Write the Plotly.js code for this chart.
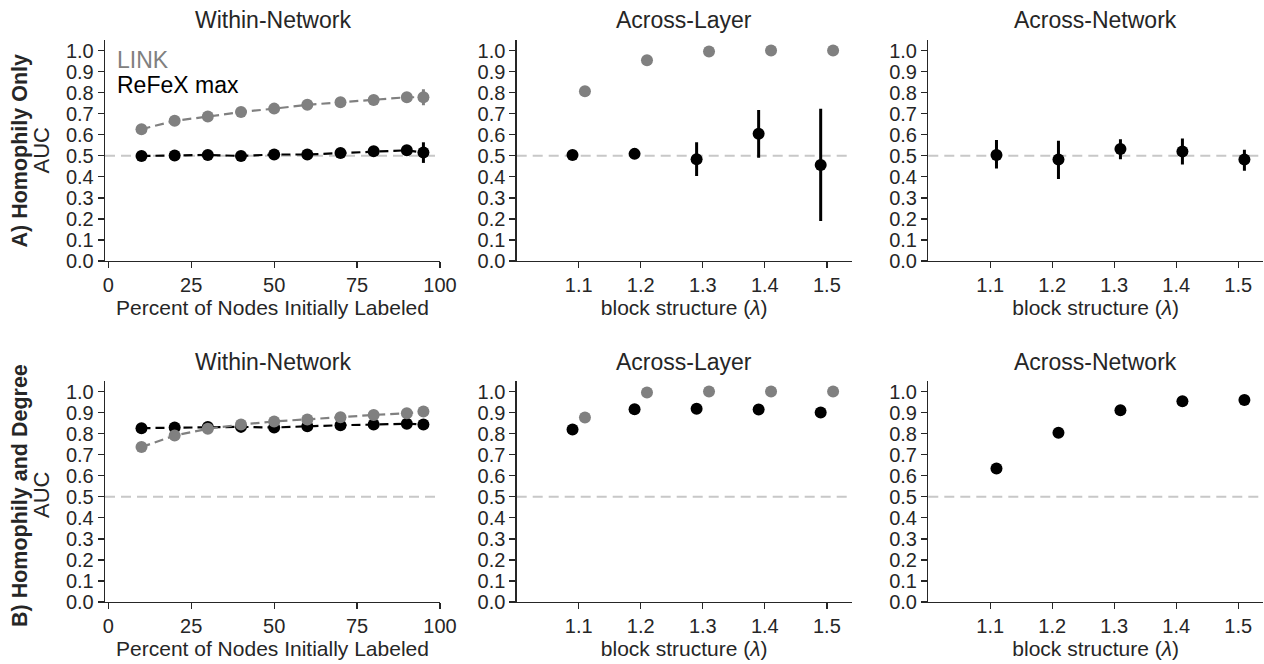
<!DOCTYPE html>
<html>
<head>
<meta charset="utf-8">
<script src="https://cdn.plot.ly/plotly-3.0.1.min.js"></script>
<style>html,body{margin:0;padding:0;background:#fff;}#chart{width:1264px;height:664px;}</style>
</head>
<body>
<div id="chart"></div>
<script>
// ---------- data ----------
const pctLabeled = [10, 20, 30, 40, 50, 60, 70, 80, 90, 95];
const lambdaVals = [1.1, 1.2, 1.3, 1.4, 1.5];
const pctTicks = [0, 25, 50, 75, 100];
const aucTicks = [0, 0.1, 0.2, 0.3, 0.4, 0.5, 0.6, 0.7, 0.8, 0.9, 1.0];
const lambdaTicks = [1.1, 1.2, 1.3, 1.4, 1.5];
const chanceLevel = 0.5;

// A) Homophily only
const A_within_link   = [0.626, 0.666, 0.686, 0.708, 0.724, 0.742, 0.754, 0.765, 0.778, 0.778];
const A_within_link_err = [0.006, 0.006, 0.006, 0.006, 0.006, 0.006, 0.006, 0.006, 0.010, 0.038];
const A_within_refex  = [0.499, 0.501, 0.504, 0.499, 0.506, 0.506, 0.513, 0.521, 0.526, 0.515];
const A_within_refex_err = [0.006, 0.006, 0.006, 0.006, 0.006, 0.006, 0.008, 0.008, 0.012, 0.049];

const A_layer_link  = [0.807, 0.954, 0.995, 1.000, 1.000];
const A_layer_refex = [0.504, 0.509, 0.483, 0.605, 0.456];
const A_layer_refex_errPlus  = [0.010, 0.010, 0.081, 0.113, 0.267];
const A_layer_refex_errMinus = [0.010, 0.010, 0.079, 0.114, 0.266];

const A_net_refex = [0.504, 0.482, 0.532, 0.520, 0.482];
const A_net_refex_errPlus  = [0.071, 0.089, 0.046, 0.062, 0.046];
const A_net_refex_errMinus = [0.065, 0.092, 0.049, 0.062, 0.053];

// B) Homophily and degree
const B_within_link  = [0.736, 0.791, 0.823, 0.843, 0.858, 0.867, 0.878, 0.889, 0.897, 0.905];
const B_within_link_err = [0.006, 0.006, 0.006, 0.006, 0.006, 0.006, 0.006, 0.006, 0.006, 0.012];
const B_within_refex = [0.826, 0.829, 0.831, 0.832, 0.829, 0.835, 0.840, 0.843, 0.847, 0.843];
const B_within_refex_err = [0.006, 0.006, 0.006, 0.006, 0.006, 0.006, 0.006, 0.006, 0.008, 0.020];

const B_layer_link  = [0.877, 0.995, 1.000, 1.000, 1.000];
const B_layer_refex = [0.820, 0.916, 0.918, 0.915, 0.900];

const B_net_refex = [0.634, 0.804, 0.911, 0.954, 0.960];

// ---------- styling ----------
const GRAY = '#808080', BLACK = '#000000', INK = '#262626';
const FONT = 'Liberation Sans, Arial, Helvetica, sans-serif';
const DODGE = 0.01;
const shift = (arr, d) => arr.map(v => +(v + d).toFixed(3));

function pts(x, y, color, axis, opts) {
  opts = opts || {};
  const t = {
    type: 'scatter', x: x, y: y, xaxis: 'x' + axis, yaxis: 'y' + axis,
    mode: opts.line ? 'lines+markers' : 'markers',
    marker: {color: color, size: 12},
    showlegend: false, hoverinfo: 'x+y'
  };
  if (opts.line) t.line = {color: color, width: 2.2, dash: '9px,5px'};
  if (opts.errPlus) {
    t.error_y = {type: 'data', symmetric: false, array: opts.errPlus,
                 arrayminus: opts.errMinus || opts.errPlus,
                 color: color, thickness: 3, width: 0};
  }
  return t;
}

const data = [
  // A within
  pts(pctLabeled, A_within_refex, BLACK, '', {line: true, errPlus: A_within_refex_err}),
  pts(pctLabeled, A_within_link, GRAY, '', {line: true, errPlus: A_within_link_err}),
  // A across layer
  pts(shift(lambdaVals, -DODGE), A_layer_refex, BLACK, '2', {errPlus: A_layer_refex_errPlus, errMinus: A_layer_refex_errMinus}),
  pts(shift(lambdaVals, DODGE), A_layer_link, GRAY, '2'),
  // A across network
  pts(shift(lambdaVals, DODGE), A_net_refex, BLACK, '3', {errPlus: A_net_refex_errPlus, errMinus: A_net_refex_errMinus}),
  // B within
  pts(pctLabeled, B_within_refex, BLACK, '4', {line: true, errPlus: B_within_refex_err}),
  pts(pctLabeled, B_within_link, GRAY, '4', {line: true, errPlus: B_within_link_err}),
  // B across layer
  pts(shift(lambdaVals, -DODGE), B_layer_refex, BLACK, '5'),
  pts(shift(lambdaVals, DODGE), B_layer_link, GRAY, '5'),
  // B across network
  pts(shift(lambdaVals, DODGE), B_net_refex, BLACK, '6')
];

// plot area: x 105..1263, y 40..602 (pixels)
const L = 105, R = 1263, T = 40, B = 602;
const W = R - L, H = B - T;
const px = v => (v - L) / W;
const py = v => (B - v) / H;

const colDom = [[0, px(440)], [px(516.7), px(851.7)], [px(928.3), 1]];
const rowDom = [[py(261), 1], [0, py(381)]];

const XTICK_SIZE = 20, YTICK_SIZE = 20, AXTITLE_SIZE = 21, PANEL_TITLE_SIZE = 23;

function xax(col, row) {
  const isPct = col === 0;
  const idx = row * 3 + col + 1;
  return {
    domain: colDom[col], anchor: 'y' + (idx === 1 ? '' : idx),
    range: isPct ? [-1, 100] : [1.0, 1.54],
    tickmode: 'array', tickvals: isPct ? pctTicks : lambdaTicks,
    ticktext: isPct ? pctTicks.map(String) : lambdaTicks.map(v => v.toFixed(1)),
    showline: true, linecolor: INK, linewidth: 1.3,
    ticks: 'outside', ticklen: 6, tickwidth: 1.3, tickcolor: INK,
    showgrid: false, zeroline: false,
    tickfont: {family: FONT, size: XTICK_SIZE, color: INK},
    title: {text: isPct ? 'Percent of Nodes Initially Labeled' : 'block structure (<i>λ</i>)',
            font: {family: FONT, size: AXTITLE_SIZE, color: INK}, standoff: 4},
    automargin: false, fixedrange: true
  };
}
function yax(col, row) {
  const idx = row * 3 + col + 1;
  return {
    domain: rowDom[row], anchor: 'x' + (idx === 1 ? '' : idx),
    range: [0, 1.05],
    tickmode: 'array', tickvals: aucTicks, ticktext: aucTicks.map(v => v.toFixed(1)),
    showline: true, linecolor: INK, linewidth: 1.3,
    ticks: 'outside', ticklen: 6, tickwidth: 1.3, tickcolor: INK,
    showgrid: false, zeroline: false,
    tickfont: {family: FONT, size: YTICK_SIZE, color: INK},
    automargin: false, fixedrange: true
  };
}

const layout = {
  width: 1264, height: 664,
  margin: {l: L, r: 1264 - R, t: T, b: 664 - B, pad: 0},
  paper_bgcolor: '#ffffff', plot_bgcolor: '#ffffff',
  font: {family: FONT, color: INK},
  showlegend: false,
  shapes: [], annotations: []
};
for (let row = 0; row < 2; row++) {
  for (let col = 0; col < 3; col++) {
    const idx = row * 3 + col + 1;
    const s = idx === 1 ? '' : String(idx);
    layout['xaxis' + s] = xax(col, row);
    layout['yaxis' + s] = yax(col, row);
    layout.shapes.push({type: 'line', xref: 'x' + s + ' domain', yref: 'y' + s,
      x0: 0, x1: 1, y0: chanceLevel, y1: chanceLevel, layer: 'below',
      line: {color: '#c8c8c8', width: 2.2, dash: '10px,6px'}});
  }
}

const colTitles = ['Within-Network', 'Across-Layer', 'Across-Network'];
const rowTitleY = [py(20), py(362)];
for (let row = 0; row < 2; row++) {
  for (let col = 0; col < 3; col++) {
    layout.annotations.push({text: colTitles[col], xref: 'paper', yref: 'paper',
      x: (colDom[col][0] + colDom[col][1]) / 2, y: rowTitleY[row],
      xanchor: 'center', yanchor: 'middle', showarrow: false,
      font: {family: FONT, size: PANEL_TITLE_SIZE, color: INK}});
  }
}
const rowLabels = ['A) Homophily Only', 'B) Homophily and Degree'];
const rowCenters = [py(150.5), py(495)];
for (let row = 0; row < 2; row++) {
  layout.annotations.push({text: '<b>' + rowLabels[row] + '</b>', xref: 'paper', yref: 'paper',
    x: px(20), y: rowCenters[row], xanchor: 'center', yanchor: 'middle', textangle: -90,
    showarrow: false, font: {family: FONT, size: 21.5, color: INK}});
  layout.annotations.push({text: 'AUC', xref: 'paper', yref: 'paper',
    x: px(41), y: rowCenters[row], xanchor: 'center', yanchor: 'middle', textangle: -90,
    showarrow: false, font: {family: FONT, size: 22, color: INK}});
}
// legend text
layout.annotations.push({text: 'LINK', xref: 'paper', yref: 'paper', x: px(115), y: py(60),
  xanchor: 'left', yanchor: 'middle', showarrow: false, font: {family: FONT, size: 23, color: GRAY}});
layout.annotations.push({text: 'ReFeX max', xref: 'paper', yref: 'paper', x: px(115), y: py(85),
  xanchor: 'left', yanchor: 'middle', showarrow: false, font: {family: FONT, size: 23, color: BLACK}});

Plotly.newPlot('chart', data, layout, {staticPlot: true, displayModeBar: false});
</script>
</body>
</html>
